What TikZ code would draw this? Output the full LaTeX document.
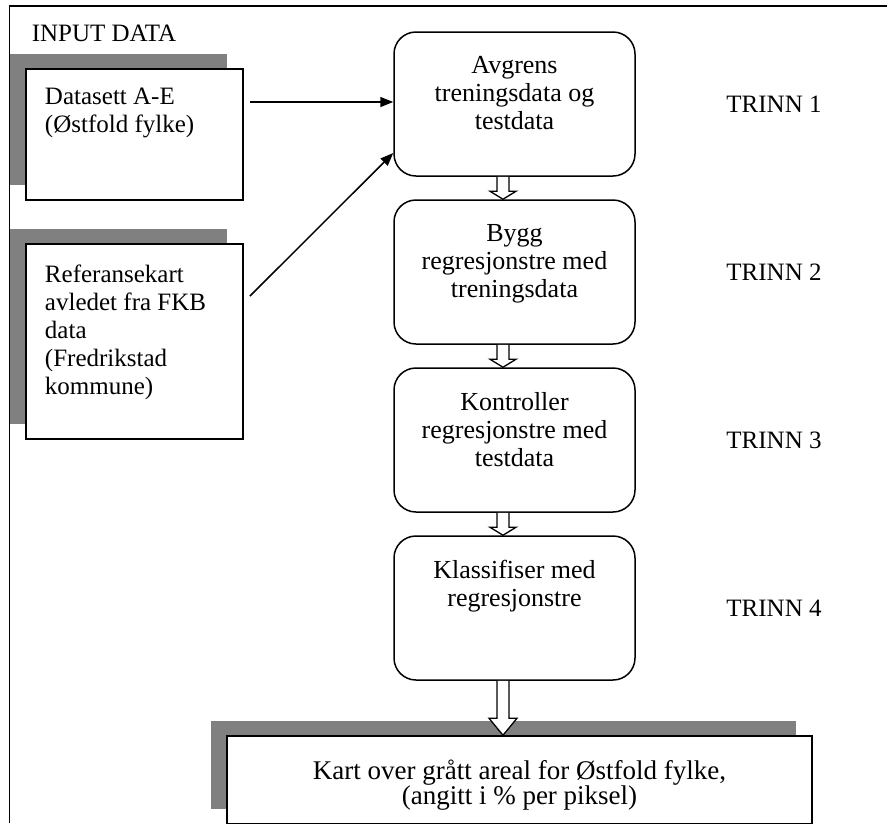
\documentclass[tikz,border=0pt]{standalone}
\usepackage{fontspec}
\setmainfont{Liberation Serif}
\usetikzlibrary{positioning,shadows,arrows.meta,calc}

\tikzset{every picture/.style={line width=1.5pt}}
\tikzset{
  stepbox/.style={draw, rounded corners=22pt, minimum width=241pt, minimum height=144pt, inner sep=0pt},
  steptext/.style={align=center, inner sep=0pt, font=\fontsize{26}{28}\selectfont},
  inbox/.style={draw, fill=white, minimum width=217pt, inner sep=0pt,
    general shadow={fill=gray, draw=none, shadow xshift=-16pt, shadow yshift=15pt}},
  intext/.style={align=left, inner sep=0pt, font=\fontsize{25}{28}\selectfont},
  feed/.style={-{Triangle[length=13pt,width=10pt]}},
  hollow/.style={fill=white, line width=1.3pt},
}

\begin{document}
\begin{tikzpicture}[x=1pt,y=1pt,yscale=-1,xscale=1]
\useasboundingbox (0,0) rectangle (887,823);
% frame
\draw[line width=1.2pt] (9.5,823) -- (9.5,6) -- (887,6);
\node[intext, anchor=west] (input) at (31,33) {INPUT DATA};

% input boxes
\node[inbox, minimum height=131pt] (datasett) at (134.5,134.5) {};
\node[intext, below right=19pt and 19pt of datasett.north west] {Datasett A-E\\(Østfold fylke)};
\node[inbox, minimum height=195pt] (referanse) at (134.5,341.5) {};
\node[intext, below right=21pt and 19pt of referanse.north west] {Referansekart\\avledet fra FKB\\data\\(Fredrikstad\\kommune)};

% steps
\node[stepbox] (avgrens) at (514.5,104) {};
\node[steptext, below=24pt of avgrens.north] {Avgrens\\treningsdata og\\testdata};
\node[stepbox] (bygg) at (514.5,272) {};
\node[steptext, below=24pt of bygg.north] {Bygg\\regresjonstre med\\treningsdata};
\node[stepbox] (kontroll) at (514.5,440) {};
\node[steptext, below=24pt of kontroll.north] {Kontroller\\regresjonstre med\\testdata};
\node[stepbox] (klassifiser) at (514.5,608) {};
\node[steptext, below=24pt of klassifiser.north] {Klassifiser med\\regresjonstre};

\node[intext] (trinn1) at (774,104) {TRINN 1};
\node[intext] (trinn2) at (774,272) {TRINN 2};
\node[intext] (trinn3) at (774,440) {TRINN 3};
\node[intext] (trinn4) at (774,608) {TRINN 4};

% result
\node[inbox, minimum width=585pt, minimum height=88pt] (kart) at (519.5,780) {};
\node[steptext, font=\fontsize{27}{25}\selectfont] at (519.5,785) {Kart over grått areal for Østfold fylke,\\(angitt i \% per piksel)};

% input arrows
\coordinate (in1) at (250,102);
\draw[feed] (in1) -- (in1 -| avgrens.west);
\coordinate (in2) at (250,296);
\draw[feed] (in2) -- (avgrens.west |- 0,153);

% hollow arrows
\coordinate (s1) at (503,0 |- avgrens.south);
\coordinate (t1) at (503,0 |- bygg.north);
\draw[hollow] ($(s1)+(-6,0)$) -- ($(t1)+(-6,-8)$) -- ($(t1)+(-13,-8)$) -- (t1) -- ($(t1)+(13,-8)$) -- ($(t1)+(6,-8)$) -- ($(s1)+(6,0)$);
\coordinate (s2) at (503,0 |- bygg.south);
\coordinate (t2) at (503,0 |- kontroll.north);
\draw[hollow] ($(s2)+(-6,0)$) -- ($(t2)+(-6,-8)$) -- ($(t2)+(-13,-8)$) -- (t2) -- ($(t2)+(13,-8)$) -- ($(t2)+(6,-8)$) -- ($(s2)+(6,0)$);
\coordinate (s3) at (503,0 |- kontroll.south);
\coordinate (t3) at (503,0 |- klassifiser.north);
\draw[hollow] ($(s3)+(-6,0)$) -- ($(t3)+(-6,-8)$) -- ($(t3)+(-13,-8)$) -- (t3) -- ($(t3)+(13,-8)$) -- ($(t3)+(6,-8)$) -- ($(s3)+(6,0)$);
\coordinate (s4) at (503,0 |- klassifiser.south);
\coordinate (t4) at (503,0 |- kart.north);
\draw[hollow] ($(s4)+(-6,0)$) -- ($(t4)+(-6,-17)$) -- ($(t4)+(-14,-17)$) -- (t4) -- ($(t4)+(14,-17)$) -- ($(t4)+(6,-17)$) -- ($(s4)+(6,0)$);
\end{tikzpicture}
\end{document}
